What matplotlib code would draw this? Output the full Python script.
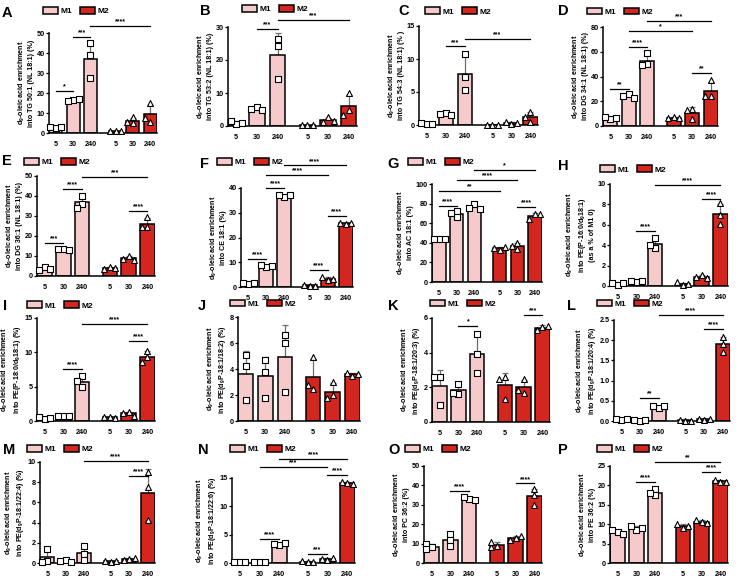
import numpy as np
import matplotlib
matplotlib.use("Agg")
import matplotlib.pyplot as plt
from matplotlib.patches import Patch

plt.rcParams["font.family"] = ["Liberation Sans", "DejaVu Sans"]
plt.rcParams["font.weight"] = "bold"
plt.rcParams["mathtext.fontset"] = "custom"
plt.rcParams["mathtext.rm"] = "Liberation Sans:bold"
plt.rcParams["mathtext.bf"] = "Liberation Sans:bold"
plt.rcParams["mathtext.it"] = "Liberation Sans:bold"

W, H = 740, 585
M1_COLOR = "#f6caca"
M2_COLOR = "#d2261e"

times = ["5", "30", "240", "5", "30", "240"]
xpos = [0, 1, 2, 3.45, 4.45, 5.45]

# replicate values, bars in order M1 5/30/240, M2 5/30/240
pts_A = [[2.5, 3.2, 2.9], [16.3, 16.0, 16.9], [45.0, 38.8, 27.5],
         [0.9, 1.1, 1.2], [7.8, 5.2, 5.5], [14.8, 5.6, 7.4]]
pts_B = [[0.7, 1.4, 1.0], [5.8, 5.2, 4.9], [26.5, 24.3, 14.2],
         [0.2, 0.3, 0.2], [2.6, 1.2, 1.6], [9.9, 4.8, 3.3]]
pts_C = [[0.2, 0.3, 0.2], [1.8, 1.6, 1.5], [10.7, 7.3, 5.3],
         [0.05, 0.05, 0.06], [0.2, 0.5, 0.3], [2.0, 0.5, 1.2]]
pts_D = [[6.0, 7.5, 6.8], [25.5, 24.0, 23.0], [59.0, 50.0, 49.5],
         [7.5, 6.5, 6.4], [5.5, 13.5, 13.3], [37.0, 24.3, 24.2]]
pts_E = [[4.5, 3.2, 3.3], [13.5, 13.6, 13.0], [40.0, 36.2, 34.2],
         [4.5, 3.5, 3.8], [10.0, 8.3, 8.0], [29.5, 24.5, 24.6]]
pts_F = [[1.3, 1.8, 1.6], [8.2, 8.7, 8.3], [36.5, 37.2, 37.1],
         [0.4, 0.9, 0.6], [3.0, 4.0, 3.2], [25.3, 26.0, 25.8]]
pts_G = [[44.0, 44.2, 43.5], [72.0, 66.0, 70.0], [79.5, 75.5, 74.5],
         [33.0, 35.0, 36.0], [39.8, 34.0, 37.0], [69.0, 64.6, 69.5]]
pts_H = [[0.1, 0.25, 0.25], [0.4, 0.5, 0.45], [3.7, 4.7, 4.0],
         [0.1, 0.35, 0.2], [1.1, 0.85, 0.8], [8.1, 7.0, 6.1]]
pts_I = [[0.3, 0.6, 0.4], [0.7, 0.75, 0.7], [6.5, 5.8, 4.9],
         [0.6, 0.6, 0.5], [1.3, 1.2, 0.8], [10.2, 9.3, 8.6]]
pts_J = [[5.05, 4.2, 1.6], [4.7, 3.8, 1.8], [6.65, 6.0, 2.2],
         [4.95, 2.5, 2.8], [3.0, 2.0, 1.75], [3.45, 3.7, 3.6]]
pts_K = [[2.6, 2.6, 1.0], [2.2, 1.6, 1.7], [5.1, 3.9, 2.8],
         [2.6, 1.35, 2.5], [2.5, 1.65, 1.85], [5.5, 5.3, 5.55]]
pts_L = [[0.03, 0.05, 0.05], [0.01, 0.02, 0.02], [0.33, 0.38, 0.36],
         [0.0, 0.03, 0.01], [0.03, 0.05, 0.04], [2.08, 1.9, 1.72]]
pts_M = [[1.4, 0.2, 0.1], [0.3, 0.2, 0.1], [1.7, 0.9, 0.3],
         [0.1, 0.2, 0.15], [0.4, 0.3, 0.5], [9.0, 7.5, 4.3]]
pts_N = [[0.1, 0.1, 0.15], [0.2, 0.15, 0.2], [3.1, 3.4, 3.5],
         [0.2, 0.3, 0.2], [0.6, 0.7, 0.8], [14.1, 14.3, 14.0]]
pts_O = [[8.0, 10.0, 7.0], [15.0, 12.0, 9.0], [33.0, 34.0, 32.5],
         [9.0, 8.0, 11.0], [13.0, 12.0, 14.0], [38.0, 30.0, 35.0]]
pts_P = [[8.0, 8.5, 7.5], [8.5, 9.5, 9.0], [19.0, 17.5, 18.0],
         [9.0, 10.0, 9.5], [10.5, 11.0, 10.2], [21.0, 21.5, 20.8]]

# significance: (bar i, bar j, height, stars)
sig_A = [(0, 1, 21, "*"), (1, 2, 48, "***"), (2, 5, 53.7, "****")]
sig_B = [(1, 2, 29.5, "***"), (2, 5, 32, "***")]
sig_C = [(1, 2, 11.9, "***"), (2, 5, 13.0, "***")]
sig_D = [(0, 1, 30.2, "**"), (1, 2, 63.9, "****"), (1, 4, 76.5, "*"),
         (2, 5, 84.9, "***"), (4, 5, 43, "**")]
sig_E = [(0, 1, 16.5, "***"), (1, 2, 43.7, "****"), (2, 5, 49.5, "***"),
         (4, 5, 32.3, "****")]
sig_F = [(0, 1, 11.4, "****"), (1, 2, 40, "****"), (3, 4, 6.7, "****"),
         (4, 5, 28.7, "****"), (1, 4, 45.4, "****"), (2, 5, 49.1, "****")]
sig_G = [(0, 1, 77.2, "****"), (4, 5, 76.2, "****"), (0, 3, 92.5, "**"),
         (1, 4, 103.7, "****"), (2, 5, 114.6, "*")]
sig_H = [(1, 2, 5.4, "****"), (4, 5, 8.55, "****"), (2, 5, 9.93, "****")]
sig_I = [(1, 2, 7.6, "****"), (4, 5, 11.7, "****"), (2, 5, 14.1, "****")]
sig_J = []
sig_K = [(1, 2, 5.55, "*"), (4, 5, 6.2, "***")]
sig_L = [(1, 2, 0.58, "**"), (4, 5, 2.27, "****"), (2, 5, 2.62, "****")]
sig_M = [(4, 5, 8.6, "****"), (2, 5, 10.1, "****")]
sig_N = [(1, 2, 4.2, "****"), (3, 4, 1.6, "***"), (4, 5, 15.5, "****"),
         (1, 4, 17.0, "***"), (2, 5, 18.4, "****")]
sig_O = [(1, 2, 37, "****"), (4, 5, 41, "****")]
sig_P = [(1, 2, 21, "****"), (4, 5, 23.5, "****"), (2, 5, 26, "**")]

dlab = "d$_9$-oleic acid enrichment\n"
panels = {
    "A": (pts_A, sig_A, 50, 10, dlab + "into TG 50:1 (NL 18:1) (%)"),
    "B": (pts_B, sig_B, 30, 10, dlab + "into TG 53:2 (NL 18:1) (%)"),
    "C": (pts_C, sig_C, 15, 5, dlab + "into TG 54:3 (NL 18:1) (% )"),
    "D": (pts_D, sig_D, 80, 20, dlab + "into DG 34:1 (NL 18:1) (%)"),
    "E": (pts_E, sig_E, 50, 10, dlab + "into DG 36:1 (NL 18:1) (%)"),
    "F": (pts_F, sig_F, 40, 10, dlab + "into CE 18:1 (%)"),
    "G": (pts_G, sig_G, 100, 20, dlab + "into AC 18:1 (%)"),
    "H": (pts_H, sig_H, 10, 2, dlab + "into PE(P-16:0/d$_9$18:1)\n(as a % of M1 0)"),
    "I": (pts_I, sig_I, 15, 5, dlab + "into PE(P-18:0/d$_9$18:1) (%)"),
    "J": (pts_J, sig_J, 8, 2, dlab + "into PE(d$_9$P-18:1/18:2) (%)"),
    "K": (pts_K, sig_K, 6, 2, dlab + "into PE(d$_9$P-18:1/20:3) (%)"),
    "L": (pts_L, sig_L, 2.5, 0.5, dlab + "into PE(d$_9$P-18:1/20:4) (%)"),
    "M": (pts_M, sig_M, 10, 2, dlab + "into PE(d$_9$P-18:1/22:4) (%)"),
    "N": (pts_N, sig_N, 15, 5, dlab + "into PE(d$_9$P-18:1/22:6) (%)"),
    "O": (pts_O, sig_O, 50, 10, dlab + "into PC 36:2 (%)"),
    "P": (pts_P, sig_P, 25, 5, dlab + "into PE 36:2 (%)"),
}

# layout in pixels: axes (x0, y0top, x1, y1bottom), legend (x, ycenter), letter (x, ytop)
layout = {
    "A": ((49, 33, 157, 133), (43, 11), (2, 6)),
    "B": ((228, 27, 357, 126), (242, 9), (200, 4)),
    "C": ((419, 26, 538, 125), (425, 11.5), (398, 4)),
    "D": ((603, 27, 718, 126), (587, 11.7), (558, 4)),
    "E": ((37, 176, 155, 276), (24, 162), (2, 154)),
    "F": ((241, 188, 353, 287), (217, 162), (200, 157)),
    "G": ((432, 184, 542, 282), (408, 162), (387, 157)),
    "H": ((610, 184, 728, 286), (600, 169.5), (558, 159)),
    "I": ((37, 318, 155, 421), (27, 305.5), (3, 299)),
    "J": ((238, 317, 360, 421), (230, 303.7), (198, 299)),
    "K": ((432, 318, 550, 422), (430, 303.7), (388, 299)),
    "L": ((614, 320, 730, 421), (597, 303.7), (567, 299)),
    "M": ((40, 462, 155, 563), (27, 449), (3, 443)),
    "N": ((232, 478, 355, 563), (230, 449), (198, 443)),
    "O": ((424, 466, 542, 563), (405, 449), (388, 443)),
    "P": ((610, 466, 728, 563), (597, 449), (558, 443)),
}

fig = plt.figure(figsize=(W / 100, H / 100), dpi=100)


def swarm(vals, px_x, px_y, size=5.0):
    # spread replicates sideways only where they would overlap
    placed = []
    offs = []
    for v in vals:
        for o in [0, -5.5, 5.5, -11, 11]:
            if all(abs(o - po) >= size or abs((v - pv) * px_y) >= size
                   for po, pv in placed):
                break
        placed.append((o, v))
        offs.append(o / px_x)
    return offs


for key, (pts, sigs, ymax, ystep, ylabel) in panels.items():
    (x0, y0, x1, y1), (lx, ly), (tx, ty) = layout[key]
    ax = fig.add_axes([x0 / W, 1 - y1 / H, (x1 - x0) / W, (y1 - y0) / H])
    xlim = (-0.4, xpos[-1] + 0.4)
    px_x = (x1 - x0) / (xlim[1] - xlim[0])
    px_y = (y1 - y0) / ymax

    means = [np.mean(p) for p in pts]
    sds = [np.std(p, ddof=1) for p in pts]
    colors = [M1_COLOR] * 3 + [M2_COLOR] * 3
    ax.errorbar(xpos, means, yerr=[np.zeros(6), sds], fmt="none", ecolor="#6e6e6e",
                elinewidth=0.9, capsize=2.2, capthick=0.9, zorder=1)
    ax.bar(xpos, means, width=0.75, color=colors, edgecolor="black",
           linewidth=1.1, zorder=2)
    for i, p in enumerate(pts):
        offs = swarm(p, px_x, px_y)
        if i < 3:
            ax.scatter(np.array(offs) + xpos[i], p, s=15, marker="s", facecolor="white",
                       edgecolor="black", linewidth=0.8, zorder=3, clip_on=False)
        else:
            ax.scatter(np.array(offs) + xpos[i], p, s=18, marker="^", facecolor="white",
                       edgecolor="black", linewidth=0.8, zorder=3, clip_on=False)

    for i, j, y, stars in sigs:
        ax.plot([xpos[i], xpos[j]], [y, y], color="black", lw=0.9,
                clip_on=False, zorder=4)
        ax.annotate(stars, ((xpos[i] + xpos[j]) / 2, y), xytext=(0, 0.5),
                    textcoords="offset points", ha="center", va="bottom",
                    fontsize=5, fontweight="bold", annotation_clip=False)

    ax.set_xlim(*xlim)
    ax.set_ylim(0, ymax)
    ticks = np.arange(0, ymax + ystep / 2, ystep)
    ax.set_yticks(ticks)
    if ystep < 1:
        ax.set_yticklabels([f"{v:.1f}" for v in ticks])
    else:
        ax.set_yticklabels([f"{v:g}" for v in ticks])
    ax.set_xticks(xpos)
    ax.set_xticklabels(times)
    for s in ["top", "right"]:
        ax.spines[s].set_visible(False)
    for s in ["left", "bottom"]:
        ax.spines[s].set_linewidth(1.1)
    ax.tick_params(axis="y", length=2.2, width=0.9, pad=0.8, labelsize=5.2)
    ax.tick_params(axis="x", length=0, pad=5.5, labelsize=5.2)
    ax.set_ylabel(ylabel, fontsize=5.1, fontweight="bold", labelpad=1.0,
                  linespacing=1.25)

    handles = [Patch(facecolor=M1_COLOR, edgecolor="black", linewidth=1.1),
               Patch(facecolor=M2_COLOR, edgecolor="black", linewidth=1.1)]
    ax.legend(handles, ["M1", "M2"], loc="center left", ncol=2,
              bbox_to_anchor=(lx / W, 1 - ly / H), bbox_transform=fig.transFigure,
              frameon=False, handlelength=1.75, handleheight=0.9,
              handletextpad=0.35, columnspacing=1.0, borderpad=0,
              borderaxespad=0, prop={"weight": "bold", "size": 6})

    fig.text(tx / W, 1 - ty / H, key, fontsize=10.5, fontweight="bold",
             ha="left", va="top")

fig.savefig("out.png", dpi=100)
